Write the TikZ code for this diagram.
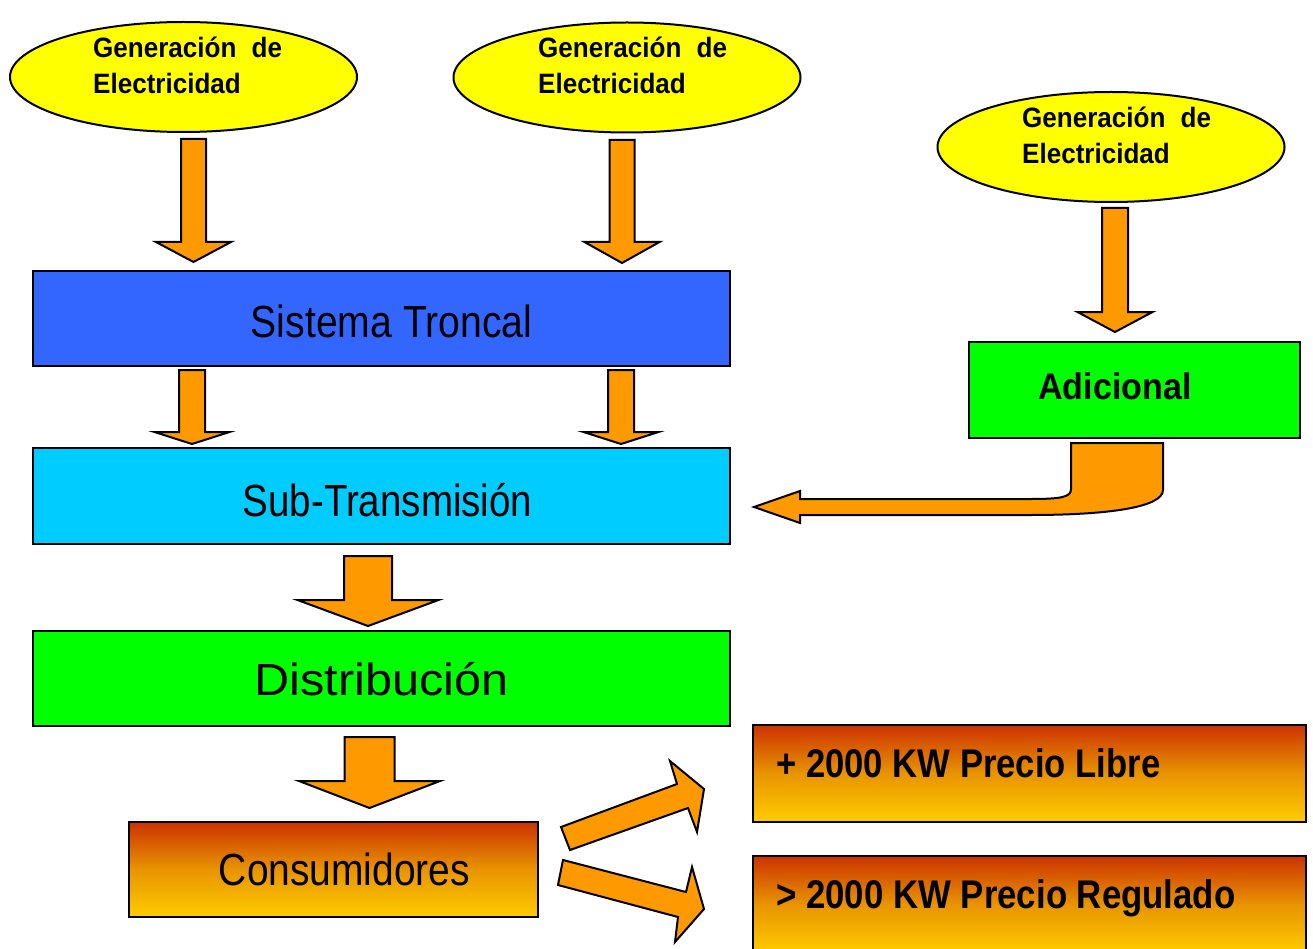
\documentclass[tikz,border=0pt]{standalone}
\usepackage{fontspec}
\setmainfont{Liberation Sans}
\usepackage{graphicx}
\usetikzlibrary{shapes.geometric}
\definecolor{genyellow}{HTML}{FFFF00}
\definecolor{arrorange}{HTML}{FF9900}
\definecolor{troncalblue}{HTML}{3366FF}
\definecolor{subcyan}{HTML}{00CCFF}
\definecolor{distgreen}{HTML}{00FF00}
\definecolor{gtop}{HTML}{CC3300}
\definecolor{gmid}{HTML}{E89400}
\definecolor{gbot}{HTML}{FFCC00}
\newcommand\dnarr[6]{%
  \filldraw[barrow] (#1-#5,#2) -- (#1+#5,#2) -- (#1+#5,#3) -- (#1+#6,#3) -- (#1,#4) -- (#1-#6,#3) -- (#1-#5,#3) -- cycle;}
\newcommand\gentext[1]{\scalebox{0.93}[1]{\parbox[t]{203pt}{\makebox[203pt][s]{Generación de}\\Electricidad}}}
\begin{document}
\begin{tikzpicture}[x=1pt,y=-1pt,
  gen/.style={ellipse, draw, line width=2pt, fill=genyellow, minimum width=347pt, minimum height=110pt, inner sep=0pt},
  boxn/.style={draw, line width=2pt, inner sep=0pt},
  gradbox/.style={draw, line width=2pt, inner sep=0pt, top color=gtop, bottom color=gbot, middle color=gmid},
  barrow/.style={draw, line width=2pt, fill=arrorange, line join=miter},
  bigtxt/.style={inner sep=0pt, anchor=base, font=\fontsize{45}{54}\selectfont},
  boldtxt/.style={inner sep=0pt, font=\bfseries\fontsize{40}{48}\selectfont},
  gtxt/.style={inner sep=0pt, anchor=base west, font=\bfseries\fontsize{28}{36}\selectfont}]
\clip (0,0) rectangle (1313,949);
\fill[white] (0,0) rectangle (1313,949);

% generation ellipses
\node[gen] (g1) at (183.5,77) {};
\node[gen] (g2) at (627,77.5) {};
\node[gen] (g3) at (1111,147) {};
\node[gtxt] (g1t) at (93,58) {\gentext{}};
\node[gtxt] (g2t) at (538,58) {\gentext{}};
\node[gtxt] (g3t) at (1022,128) {\gentext{}};

% boxes
\node[boxn, fill=troncalblue, minimum width=697pt, minimum height=95pt] (troncal) at (381.5,318.5) {};
\node[boxn, fill=subcyan, minimum width=697pt, minimum height=96pt] (sub) at (381.5,496) {};
\node[boxn, fill=distgreen, minimum width=697pt, minimum height=95pt] (dist) at (381.5,678.5) {};
\node[boxn, fill=distgreen, minimum width=331pt, minimum height=96pt] (adic) at (1134.5,390) {};
\node[gradbox, minimum width=409pt, minimum height=95pt] (cons) at (333.5,869.5) {};
\node[gradbox, minimum width=553pt, minimum height=97pt] (libre) at (1029.5,773.5) {};
\node[gradbox, minimum width=553pt, minimum height=97pt] (regul) at (1029.5,904.5) {};

% texts
\node[bigtxt] (troncalt) at (391.5,337) {\scalebox{0.87}[1]{Sistema Troncal}};
\node[bigtxt] (subt) at (387.5,516) {\scalebox{0.856}[1]{Sub-Transmisión}};
\node[bigtxt] (distt) at (381.5,695) {\scalebox{1.08}[1]{Distribución}};
\node[bigtxt] (const) at (344.5,885) {\scalebox{0.866}[1]{Consumidores}};
\node[inner sep=0pt, anchor=base, font=\bfseries\fontsize{37}{44}\selectfont] (adict) at (1115,399) {\scalebox{0.92}[1]{Adicional}};
\node[boldtxt, anchor=base west] (libret) at (776,777) {\scalebox{0.866}[1]{+ 2000 KW Precio Libre}};
\node[boldtxt, anchor=base west] (regult) at (776,908) {\scalebox{0.87}[1]{> 2000 KW Precio Regulado}};

% straight block arrows
\dnarr{193.5}{139}{242}{262}{12.5}{37.5}
\dnarr{622}{140}{242}{263}{12.5}{37.5}
\dnarr{1115}{208}{312}{332}{13}{37.5}
\dnarr{192}{370}{432}{444}{13}{37.5}
\dnarr{621}{370}{432}{444}{13}{37.5}
\dnarr{368}{556}{600}{626}{24}{70.5}
\dnarr{369.5}{737}{781}{808}{25}{70.5}

% curved arrow from Adicional to Sub-Transmision
\filldraw[barrow] (1071,443) -- (1163,443) -- (1163,490)
  .. controls (1163,507) and (1110,515) .. (1030,515)
  -- (800,515) -- (800,523) -- (754,507) -- (800,491) -- (800,499)
  -- (1030,499) .. controls (1062,499) and (1071,497) .. (1071,489) -- cycle;

% diagonal arrows
\filldraw[barrow] (561,827) -- (677,784) -- (670,761) -- (704,789) -- (697,832) -- (688,808) -- (570,850) -- cycle;
\filldraw[barrow] (563,860) -- (686,892) -- (692,867) -- (704,909) -- (675,942) -- (678,917) -- (558,885) -- cycle;
\end{tikzpicture}
\end{document}
